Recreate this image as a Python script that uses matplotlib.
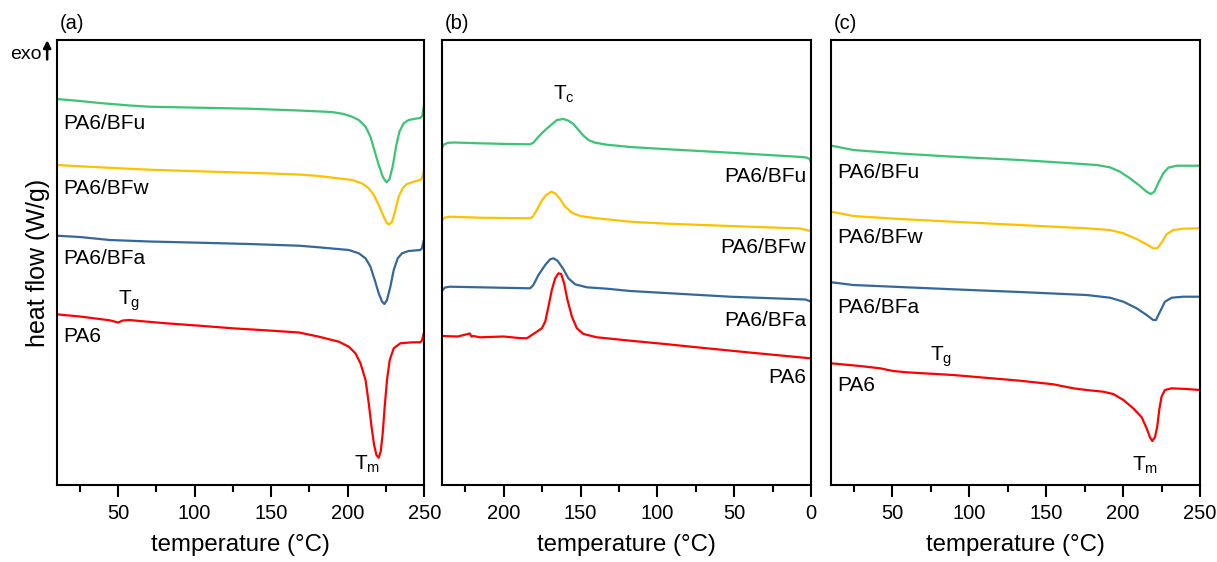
import numpy as np
import matplotlib
matplotlib.use("Agg")
import matplotlib.pyplot as plt
from matplotlib.ticker import MultipleLocator

plt.rcParams["font.family"] = ["Liberation Sans", "DejaVu Sans"]

# Colores de las muestras
c_bfu = "#3CC373"
c_bfw = "#FFC000"
c_bfa = "#36679A"
c_pa6 = "#FF0000"

# ---------------- (a) primer calentamiento ----------------
a_bfu_T = [10, 25.1, 38.2, 57.7, 70.7, 103.2, 135.7, 168.2, 189.6, 197.4, 202.8, 207.2, 211.6, 214.8, 217.0, 220.2, 223.0, 225.2, 227.2, 229.3, 231.5, 233.7, 236.5, 239.7, 244.1, 247.3, 248.6, 249.6]
a_bfu_q = [3.86, 3.84, 3.82, 3.795, 3.783, 3.773, 3.763, 3.745, 3.73, 3.71, 3.683, 3.65, 3.583, 3.483, 3.367, 3.20, 3.077, 3.027, 3.057, 3.183, 3.383, 3.533, 3.617, 3.65, 3.663, 3.67, 3.69, 3.783]

a_bfw_T = [10, 38.2, 70.7, 103.2, 146.5, 168.2, 181.2, 202.8, 209.3, 213.7, 217.0, 220.2, 223.5, 225.6, 227.2, 228.9, 231.1, 233.2, 235.8, 238.6, 243.0, 247.3, 248.4, 249.5]
a_bfw_q = [3.20, 3.177, 3.153, 3.137, 3.117, 3.105, 3.09, 3.05, 3.017, 2.967, 2.90, 2.80, 2.683, 2.617, 2.607, 2.633, 2.75, 2.883, 2.967, 3.01, 3.033, 3.05, 3.067, 3.133]

a_bfa_T = [10, 25.1, 44.7, 70.7, 103.2, 135.7, 168.2, 181.2, 200.7, 207.2, 211.6, 214.8, 217.6, 220.2, 222.4, 223.9, 225.6, 227.8, 230.0, 232.6, 235.4, 239.7, 247.3, 248.4, 249.5]
a_bfa_q = [2.493, 2.48, 2.45, 2.435, 2.423, 2.41, 2.393, 2.377, 2.35, 2.317, 2.267, 2.183, 2.05, 1.917, 1.833, 1.81, 1.85, 1.983, 2.15, 2.267, 2.317, 2.34, 2.35, 2.367, 2.44]

a_pa6_T = [10, 25.1, 44.7, 50.1, 53.1, 57.7, 64.2, 81.5, 103.2, 124.8, 146.5, 168.2, 181.2, 194.2, 200.7, 205.0, 208.3, 211.6, 213.7, 215.5, 217.2, 218.7, 220.2, 221.5, 222.8, 224.1, 225.6, 227.4, 230.0, 234.3, 241.9, 247.3, 248.4, 249.5]
a_pa6_q = [1.707, 1.685, 1.647, 1.625, 1.645, 1.65, 1.64, 1.617, 1.593, 1.567, 1.547, 1.525, 1.483, 1.433, 1.383, 1.317, 1.217, 1.05, 0.817, 0.583, 0.40, 0.30, 0.273, 0.333, 0.517, 0.783, 1.05, 1.25, 1.367, 1.417, 1.427, 1.427, 1.443, 1.51]

# ---------------- (b) enfriamiento ----------------
b_bfu_T = [240, 238.9, 236.3, 231.7, 215.4, 195.9, 182.8, 180.7, 177.4, 173.0, 168.7, 165.4, 161.1, 157.9, 154.6, 151.3, 148.1, 144.8, 140.5, 132.8, 117.6, 95.9, 52.5, 9, 2.9, 1, 0.1]
b_bfu_q = [3.375, 3.405, 3.422, 3.425, 3.417, 3.41, 3.407, 3.423, 3.483, 3.55, 3.607, 3.65, 3.66, 3.643, 3.61, 3.55, 3.493, 3.45, 3.423, 3.403, 3.38, 3.36, 3.323, 3.283, 3.275, 3.26, 3.23]

b_bfw_T = [240, 238.2, 235, 215.4, 182.8, 181.1, 178.5, 175.7, 172.4, 169.1, 166.5, 163.7, 160.0, 155.6, 150.2, 139.3, 117.6, 96, 52.5, 7, 0.3]
b_bfw_q = [2.655, 2.675, 2.683, 2.673, 2.667, 2.683, 2.75, 2.833, 2.90, 2.933, 2.917, 2.867, 2.783, 2.723, 2.69, 2.667, 2.633, 2.615, 2.59, 2.565, 2.54]

b_bfa_T = [240, 238.2, 235, 215.4, 182.8, 180.7, 177.4, 173.0, 169.8, 167.6, 165.0, 161.5, 157.9, 153.5, 145.9, 132.8, 117.6, 52.5, 3.6, 0.1]
b_bfa_q = [1.945, 1.975, 1.983, 1.977, 1.967, 2.00, 2.10, 2.20, 2.257, 2.267, 2.243, 2.167, 2.067, 2.007, 1.977, 1.963, 1.94, 1.883, 1.855, 1.835]

b_pa6_T = [240, 230, 226, 222, 221, 219.8, 215.4, 210, 200, 190, 185.0, 181.7, 178.5, 175.2, 173.0, 170.9, 168.7, 166.5, 164.4, 162.6, 160.7, 158.5, 155.6, 152.4, 148.1, 139.3, 117.6, 95, 74.2, 40, 0.3]
b_pa6_q = [1.49, 1.485, 1.50, 1.515, 1.485, 1.49, 1.477, 1.48, 1.485, 1.47, 1.467, 1.50, 1.533, 1.567, 1.633, 1.783, 1.95, 2.067, 2.117, 2.11, 2.017, 1.85, 1.683, 1.567, 1.51, 1.477, 1.443, 1.41, 1.377, 1.325, 1.267]

# ---------------- (c) segundo calentamiento ----------------
c_bfu_T = [10.5, 24.5, 54.9, 87.4, 132.9, 159, 182.8, 191.5, 198.0, 204.5, 211.0, 215.3, 218.1, 220.3, 222.8, 226.1, 229.4, 234.8, 250]
c_bfu_q = [3.393, 3.35, 3.315, 3.285, 3.25, 3.225, 3.20, 3.177, 3.133, 3.067, 2.99, 2.933, 2.91, 2.933, 3.017, 3.117, 3.173, 3.193, 3.193]

c_bfw_T = [10.5, 24.5, 54.9, 89.5, 132.9, 176.3, 191.5, 200.2, 208.8, 215.3, 219.6, 222.2, 225.0, 228.3, 232.6, 239.1, 250]
c_bfw_q = [2.733, 2.69, 2.66, 2.633, 2.60, 2.567, 2.55, 2.517, 2.46, 2.407, 2.367, 2.367, 2.423, 2.507, 2.55, 2.563, 2.567]

c_bfa_T = [10.5, 24.5, 54.9, 89.5, 132.9, 176.3, 191.5, 200.2, 208.8, 215.3, 219.6, 221.4, 224.0, 227.2, 231.6, 239.1, 250]
c_bfa_q = [2.027, 2.00, 1.98, 1.957, 1.93, 1.90, 1.873, 1.833, 1.767, 1.70, 1.65, 1.65, 1.733, 1.833, 1.873, 1.883, 1.883]

c_pa6_T = [10, 28.9, 41.9, 50.5, 59.3, 89.5, 132.9, 154.6, 167.6, 176.3, 187.1, 193.6, 200.2, 206.6, 212.1, 215.3, 217.5, 219.0, 220.7, 222.2, 223.5, 225.0, 227.2, 231.6, 241.3, 250]
c_pa6_q = [1.217, 1.19, 1.167, 1.14, 1.127, 1.10, 1.043, 1.007, 0.967, 0.95, 0.933, 0.91, 0.85, 0.767, 0.677, 0.567, 0.477, 0.44, 0.477, 0.583, 0.75, 0.883, 0.95, 0.967, 0.96, 0.95]

labels = ["PA6/BFu", "PA6/BFw", "PA6/BFa", "PA6"]
colors = [c_bfu, c_bfw, c_bfa, c_pa6]

# Posicion de las etiquetas (heat flow)
a_lab_q = [3.62, 2.967, 2.267, 1.483]
b_lab_q = [3.083, 2.38, 1.65, 1.077]
c_lab_q = [3.123, 2.473, 1.777, 1.0]

fig = plt.figure(figsize=(12.17, 5.62), dpi=100)
ax1 = fig.add_axes([0.0466, 0.137, 0.3021, 0.7918])
ax2 = fig.add_axes([0.3634, 0.137, 0.3030, 0.7918])
ax3 = fig.add_axes([0.6828, 0.137, 0.3032, 0.7918])

curves = [
    (ax1, [(a_bfu_T, a_bfu_q), (a_bfw_T, a_bfw_q), (a_bfa_T, a_bfa_q), (a_pa6_T, a_pa6_q)]),
    (ax2, [(b_bfu_T, b_bfu_q), (b_bfw_T, b_bfw_q), (b_bfa_T, b_bfa_q), (b_pa6_T, b_pa6_q)]),
    (ax3, [(c_bfu_T, c_bfu_q), (c_bfw_T, c_bfw_q), (c_bfa_T, c_bfa_q), (c_pa6_T, c_pa6_q)]),
]

for ax, series in curves:
    for (T, q), col in zip(series, colors):
        ax.plot(T, q, color=col, lw=1.6, solid_joinstyle="round")
    ax.set_ylim(0, 4.45)
    ax.set_yticks([])
    ax.xaxis.set_major_locator(MultipleLocator(50))
    ax.xaxis.set_minor_locator(MultipleLocator(25))
    ax.tick_params(axis="x", which="major", direction="out", length=8.4, width=1.5,
                   labelsize=14.5, pad=5)
    ax.tick_params(axis="x", which="minor", direction="out", length=4.8, width=1.5)
    for s in ax.spines.values():
        s.set_linewidth(1.5)
    ax.set_xlabel("temperature (\u00b0C)", fontsize=17.3, labelpad=8)

ax1.set_xlim(10, 250)
ax2.set_xlim(240, 0)
ax3.set_xlim(10, 250)

# Etiquetas de las muestras
for lab, q in zip(labels, a_lab_q):
    ax1.text(14, q, lab, fontsize=15, ha="left", va="center")
for lab, q in zip(labels, b_lab_q):
    ax2.text(3.2, q, lab, fontsize=15, ha="right", va="center")
for lab, q in zip(labels, c_lab_q):
    ax3.text(14, q, lab, fontsize=15, ha="left", va="center")

# Temperaturas caracteristicas
ax1.text(49.9, 1.80, r"$\mathregular{T_g}$", fontsize=15, ha="left", va="baseline")
ax1.text(204, 0.15, r"$\mathregular{T_m}$", fontsize=15, ha="left", va="baseline")
ax2.text(167.8, 3.85, r"$\mathregular{T_c}$", fontsize=15, ha="left", va="baseline")
ax3.text(74.4, 1.243, r"$\mathregular{T_g}$", fontsize=15, ha="left", va="baseline")
ax3.text(205.6, 0.143, r"$\mathregular{T_m}$", fontsize=15, ha="left", va="baseline")

# Letras de los paneles
for ax, let in zip([ax1, ax2, ax3], ["(a)", "(b)", "(c)"]):
    ax.text(0.008, 1.036, let, transform=ax.transAxes, fontsize=14.5, ha="left", va="center")

ax1.set_ylabel("heat flow (W/g)", fontsize=18, labelpad=5)

# Flecha exo
ax1.annotate("", xy=(-0.026, 1.006), xytext=(-0.026, 0.95), xycoords="axes fraction",
             textcoords="axes fraction", annotation_clip=False,
             arrowprops=dict(arrowstyle="-|>", color="black", lw=1.8, mutation_scale=11))
ax1.text(-0.04, 0.968, "exo", transform=ax1.transAxes, fontsize=14, ha="right", va="center")

plt.savefig("out.png", dpi=100)
